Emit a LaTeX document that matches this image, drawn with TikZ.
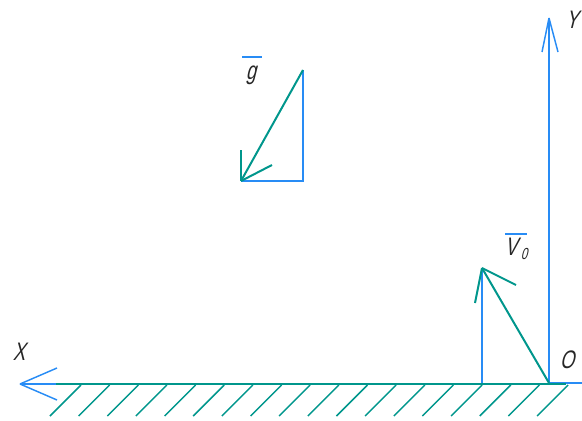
\documentclass[tikz,border=0pt]{standalone}
\usepackage{fontspec}
\setmainfont{Liberation Sans}
\newfontfamily\gost[FakeSlant=0.25,FakeStretch=0.72]{Liberation Sans}
\begin{document}
\begin{tikzpicture}[x=0.75pt,y=-0.75pt,
  axisc/.style={draw=axblue,line width=1.1pt},
  vecc/.style={draw=vteal,line width=1.5pt},
  groundc/.style={draw=vteal,line width=2.2pt},
  hatchc/.style={draw=vteal,line width=1.1pt},
  lbl/.style={font=\gost\fontsize{19}{19}\selectfont,text=black!85,inner sep=0pt},
  sublbl/.style={font=\gost\fontsize{12}{12}\selectfont,text=black!85,inner sep=0pt}]
\definecolor{axblue}{RGB}{40,140,245}
\definecolor{vteal}{RGB}{0,150,140}
\useasboundingbox (0,0) rectangle (582,421);
% coordinates
\coordinate (O) at (549,383);
\coordinate (Xend) at (20,384);
\coordinate (Yend) at (549,18);
\coordinate (gtop) at (303,70);
\coordinate (gcorner) at (303,181);
\coordinate (gtip) at (241,181);
\coordinate (vtip) at (482,268);
\coordinate (vbase) at (482,383);
% axes
\draw[axisc] (O) -- (582,383);
\draw[axisc] (56,384) -- (Xend);
\draw[axisc] (Xend) -- (57,368);
\draw[axisc] (Xend) -- (57,400);
\draw[axisc] (O) -- (Yend);
\draw[axisc] (Yend) -- (542,52);
\draw[axisc] (Yend) -- (558,52);
% ground
\draw[groundc] (56,384) -- (566,384);
\foreach \i in {0,...,17}{
  \draw[hatchc] ({81+\i*28.65},385) -- ({50+\i*28.65},416);
}
% g vector
\draw[axisc] (gtop) -- (gcorner) -- (gtip);
\draw[vecc] (gtop) -- (gtip);
\draw[vecc] (gtip) -- (241,150);
\draw[vecc] (gtip) -- (272,165);
% V0 vector
\draw[axisc] (vbase) -- (vtip);
\draw[vecc] (O) -- (vtip);
\draw[vecc] (vtip) -- (475,303);
\draw[vecc] (vtip) -- (516,285);
% labels
\node[lbl] (lx) at (19,352) {X};
\node[lbl] (ly) at (572,20) {Y};
\node[lbl] (lo) at (567,360) {O};
\node[lbl] (lg) at (251,75) {g};
\draw[axisc,line width=0.8pt] (242,57) -- (262,57);
\node[lbl] (lv) at (511,247) {V};
\node[sublbl,anchor=base west] (lv0) at ([xshift=2.5pt,yshift=-3pt]lv.base east) {0};
\draw[axisc,line width=0.8pt] (505,234) -- (527,234);
\end{tikzpicture}
\end{document}
